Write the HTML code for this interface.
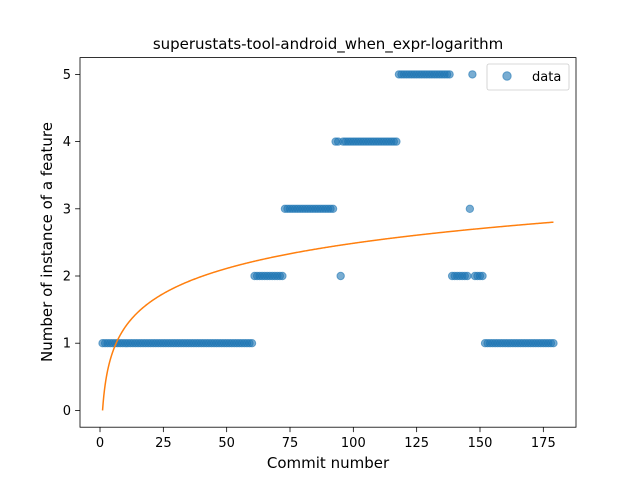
<!DOCTYPE html>
<html><head><meta charset="utf-8"><style>body{margin:0;background:#fff}svg{display:block;font-family:"DejaVu Sans","Liberation Sans",sans-serif}</style></head>
<body>
<svg id="chart" width="640" height="480">
<rect width="640" height="480" fill="#fff"/>
<text x="328" y="49" text-anchor="middle" font-size="15">superustats-tool-android_when_expr-logarithm</text>
<g id="marks"></g>
<rect x="80" y="57.6" width="496" height="369.6" fill="none" stroke="#000" stroke-width="0.8"/>
<g id="axes"></g>
<text x="328" y="468" text-anchor="middle" font-size="15">Commit number</text>
<text transform="translate(52,242) rotate(-90)" text-anchor="middle" font-size="15">Number of instance of a feature</text>
<g>
<rect x="487" y="64" width="82" height="26" rx="2" fill="#fff" stroke="#ccc" stroke-width="0.8"/>
<circle cx="507" cy="76" r="4.2" fill="#1f77b4" fill-opacity="0.6" stroke="#1f77b4" stroke-opacity="0.6"/>
<text x="532" y="81" font-size="13">data</text>
</g>
</svg>
<script>
const segValues = [1, 2, 3, 4, 2, 4, 5, 2, 3, 5, 2, 1];
const segStarts = [1, 61, 73, 93, 95, 96, 118, 139, 146, 147, 148, 152];
const segEnds =   [60, 72, 92, 94, 95, 117, 138, 145, 146, 147, 151, 179];
const fitCoef = 0.540;
const fitIntercept = 0.0;
const xTicks = [0, 25, 50, 75, 100, 125, 150, 175];
const yTicks = [0, 1, 2, 3, 4, 5];
const NS = "http://www.w3.org/2000/svg";
const X0 = 80, X1 = 576, Y0 = 427.2, Y1 = 57.6;
const n = segEnds[segEnds.length - 1];
const xmin = 1 - 0.05 * (n - 1), xmax = n + 0.05 * (n - 1);
const ymin = -0.25, ymax = 5.25;
const sx = v => X0 + (v - xmin) / (xmax - xmin) * (X1 - X0);
const sy = v => Y0 - (v - ymin) / (ymax - ymin) * (Y0 - Y1);
const marks = document.getElementById('marks');
const axes = document.getElementById('axes');
for (let s = 0; s < segValues.length; s++) {
  for (let c = segStarts[s]; c <= segEnds[s]; c++) {
    const el = document.createElementNS(NS, 'circle');
    el.setAttribute('cx', sx(c)); el.setAttribute('cy', sy(segValues[s]));
    el.setAttribute('r', 3.7);
    el.setAttribute('fill', '#1f77b4'); el.setAttribute('fill-opacity', '0.6');
    el.setAttribute('stroke', '#1f77b4'); el.setAttribute('stroke-opacity', '0.6');
    
    
    marks.appendChild(el);
  }
}
let d = '';
for (let c = 1; c <= n; c += 0.25) {
  d += (d ? 'L' : 'M') + sx(c).toFixed(2) + ',' + sy(fitCoef * Math.log(c) + fitIntercept).toFixed(2);
}
const line = document.createElementNS(NS, 'path');
line.setAttribute('d', d); line.setAttribute('fill', 'none');
line.setAttribute('stroke', '#ff7f0e'); line.setAttribute('stroke-width', '1.5');


marks.appendChild(line);
xTicks.forEach(t => {
  const x = sx(t);
  const l = document.createElementNS(NS, 'line');
  l.setAttribute('x1', x); l.setAttribute('x2', x); l.setAttribute('y1', Y0); l.setAttribute('y2', Y0 + 4.9);
  l.setAttribute('stroke', '#000'); l.setAttribute('stroke-width', '0.8');
  
  
  axes.appendChild(l);
  const tx = document.createElementNS(NS, 'text');
  tx.setAttribute('x', x); tx.setAttribute('y', Y0 + 20); tx.setAttribute('text-anchor', 'middle'); tx.setAttribute('font-size', '13');
  tx.textContent = t;
  
  
  axes.appendChild(tx);
});
yTicks.forEach(t => {
  const y = sy(t);
  const l = document.createElementNS(NS, 'line');
  l.setAttribute('x1', X0 - 4.9); l.setAttribute('x2', X0); l.setAttribute('y1', y); l.setAttribute('y2', y);
  l.setAttribute('stroke', '#000'); l.setAttribute('stroke-width', '0.8');
  
  
  axes.appendChild(l);
  const tx = document.createElementNS(NS, 'text');
  tx.setAttribute('x', X0 - 9); tx.setAttribute('y', y + 4.5); tx.setAttribute('text-anchor', 'end'); tx.setAttribute('font-size', '13');
  tx.textContent = t;
  
  
  axes.appendChild(tx);
});
</script>
</body></html>
